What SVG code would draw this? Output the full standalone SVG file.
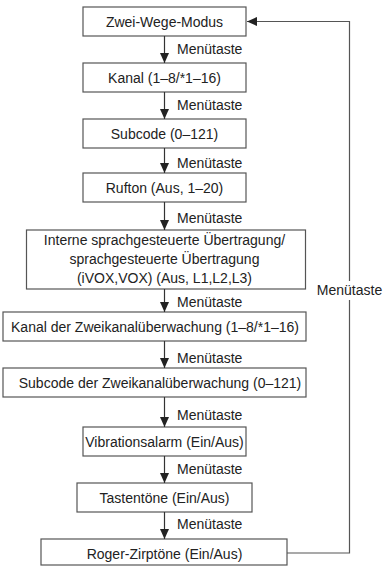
<svg xmlns="http://www.w3.org/2000/svg" width="383" height="567" viewBox="0 0 383 567">
<style>
.box{fill:#fff;stroke:#555;stroke-width:1.2}
.t{font-family:"Liberation Sans",Arial,sans-serif;font-size:14px;fill:#222;text-anchor:middle}
.l{font-family:"Liberation Sans",Arial,sans-serif;font-size:14px;fill:#222}
.c{fill:none;stroke:#333;stroke-width:1.2}
.fb{fill:none;stroke:#555;stroke-width:1.2}
</style>
<defs>
<marker id="ah" markerUnits="userSpaceOnUse" markerWidth="11" markerHeight="9" refX="10" refY="4.5" orient="auto">
<path d="M0,0 L10,4.5 L0,9 Z" fill="#222"/>
</marker>
</defs>
<rect width="383" height="567" fill="#fff"/>
<g id="n1"><rect class="box" x="83" y="7" width="163" height="29"/><text class="t" x="164.5" y="26.5">Zwei-Wege-Modus</text></g>
<g id="n2"><rect class="box" x="83" y="63" width="163" height="29"/><text class="t" x="164.5" y="82.5">Kanal (1–8/*1–16)</text></g>
<g id="n3"><rect class="box" x="83" y="119" width="163" height="29"/><text class="t" x="164.5" y="138.5">Subcode (0–121)</text></g>
<g id="n4"><rect class="box" x="83" y="173" width="163" height="29"/><text class="t" x="164.5" y="192.5">Rufton (Aus, 1–20)</text></g>
<g id="n5"><rect class="box" x="26.5" y="230" width="279" height="59"/>
<text class="t" x="164.5" y="245">Interne sprachgesteuerte Übertragung/</text>
<text class="t" x="164.5" y="264">sprachgesteuerte Übertragung</text>
<text class="t" x="164.5" y="282.5">(iVOX,VOX) (Aus, L1,L2,L3)</text></g>
<g id="n6"><rect class="box" x="3" y="312" width="303" height="29"/><text class="t" x="155" y="331.5">Kanal der Zweikanalüberwachung (1–8/*1–16)</text></g>
<g id="n7"><rect class="box" x="3" y="368" width="303" height="29"/><text class="t" x="160" y="387.5">Subcode der Zweikanalüberwachung (0–121)</text></g>
<g id="n8"><rect class="box" x="83" y="427" width="163" height="29"/><text class="t" x="164.5" y="446.5">Vibrationsalarm (Ein/Aus)</text></g>
<g id="n9"><rect class="box" x="77" y="483" width="175" height="29"/><text class="t" x="164.5" y="502.5">Tastentöne (Ein/Aus)</text></g>
<g id="n10"><rect class="box" x="41" y="539" width="246" height="26"/><text class="t" x="164.5" y="558.5">Roger-Zirptöne (Ein/Aus)</text></g>
<g id="connectors">
<path class="c" marker-end="url(#ah)" d="M164.5,36 V63"/>
<path class="c" marker-end="url(#ah)" d="M164.5,92 V119"/>
<path class="c" marker-end="url(#ah)" d="M164.5,148 V173"/>
<path class="c" marker-end="url(#ah)" d="M164.5,202 V230"/>
<path class="c" marker-end="url(#ah)" d="M164.5,289 V312"/>
<path class="c" marker-end="url(#ah)" d="M164.5,341 V368"/>
<path class="c" marker-end="url(#ah)" d="M164.5,397 V427"/>
<path class="c" marker-end="url(#ah)" d="M164.5,456 V483"/>
<path class="c" marker-end="url(#ah)" d="M164.5,512 V539"/>
<path class="fb" d="M287,553 H349.5 V300"/>
<path class="fb" marker-end="url(#ah)" d="M349.5,281 V21.5 H247"/>
<text class="l" x="177" y="54">Menütaste</text>
<text class="l" x="177" y="110">Menütaste</text>
<text class="l" x="177" y="167.5">Menütaste</text>
<text class="l" x="177" y="223">Menütaste</text>
<text class="l" x="177" y="307">Menütaste</text>
<text class="l" x="177" y="363">Menütaste</text>
<text class="l" x="177" y="420">Menütaste</text>
<text class="l" x="177" y="474">Menütaste</text>
<text class="l" x="177" y="529">Menütaste</text>
<text class="l" x="349.5" y="295" text-anchor="middle">Menütaste</text>
</g>
</svg>
